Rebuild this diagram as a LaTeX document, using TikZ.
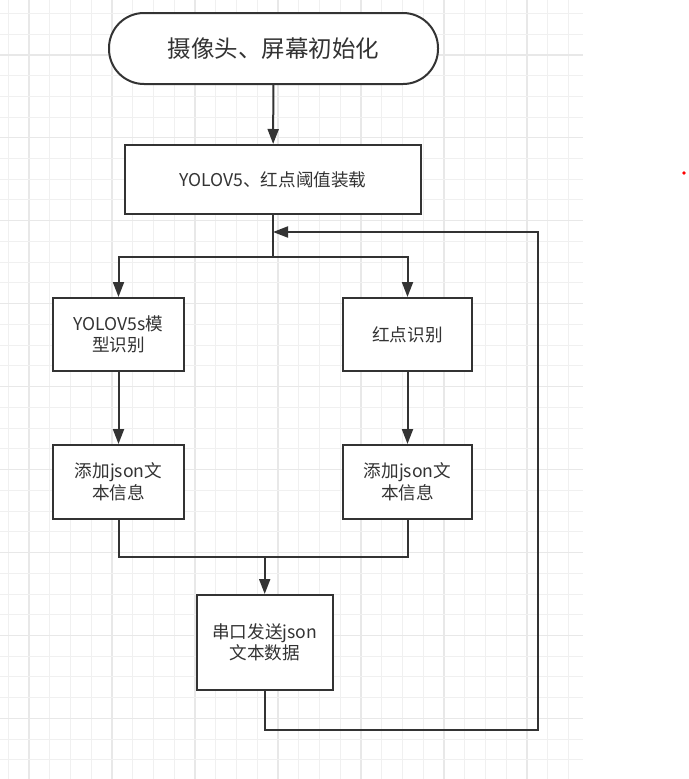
\documentclass[tikz,border=0pt]{standalone}
\usepackage{fontspec}
\setmainfont{Noto Sans CJK SC}
\usetikzlibrary{arrows.meta}
\definecolor{ink}{HTML}{333333}
\definecolor{gridlight}{HTML}{F0F0F0}
\definecolor{griddark}{HTML}{E8E8E8}
\tikzset{
  gthin/.style={draw=gridlight, line width=1pt},
  gthick/.style={draw=griddark, line width=1.5pt},
  box/.style={draw=ink, line width=2pt, fill=white, text=ink, align=center,
    inner sep=0pt, font=\fontsize{17.6}{21.5}\selectfont},
  startbox/.style={box, rounded corners=35pt, font=\fontsize{23.5}{28}\selectfont},
  conn/.style={draw=ink, line width=2pt},
  arr/.style={conn, -{Triangle[length=15pt,width=11pt]}},
}
\begin{document}
\begin{tikzpicture}[x=1pt,y=-1pt]
\useasboundingbox (0,0) rectangle (688,779);
% background grid
\foreach \k in {0,...,27}{
  \pgfmathtruncatemacro{\m}{mod(\k,4)}
  \ifnum\m=1
    \draw[gthick] ({8.3+\k*20.74},0) -- ({8.3+\k*20.74},779);
  \else
    \draw[gthin] ({8.3+\k*20.74},0) -- ({8.3+\k*20.74},779);
  \fi
}
\foreach \k in {0,...,36}{
  \pgfmathtruncatemacro{\m}{mod(\k,4)}
  \ifnum\m=2
    \draw[gthick] (0,{13.3+\k*20.74}) -- (583,{13.3+\k*20.74});
  \else
    \draw[gthin] (0,{13.3+\k*20.74}) -- (583,{13.3+\k*20.74});
  \fi
}
% nodes
\node[startbox, minimum width=329pt, minimum height=71pt] (init) at (273.5,48.5) {摄像头、屏幕初始化};
\node[box, minimum width=296pt, minimum height=69pt] (load) at (273,179.5) {YOLOV5、红点阈值装载};
\node[box, minimum width=131pt, minimum height=73pt] (yolo) at (118.5,334.5) {YOLOV5s模\\型识别};
\node[box, minimum width=129pt, minimum height=73pt] (red) at (407.5,334.5) {红点识别};
\node[box, minimum width=131pt, minimum height=74pt] (jsonA) at (118.5,482) {添加json文\\本信息};
\node[box, minimum width=129pt, minimum height=74pt] (jsonB) at (407.5,482) {添加json文\\本信息};
\node[box, minimum width=136pt, minimum height=95pt] (send) at (264.7,642.5) {串口发送json\\文本数据};
\node[circle, fill=red, inner sep=0pt, minimum size=3.6pt] (dot) at (684,173) {};
% coordinates
\coordinate (split) at (273,257);
\coordinate (merge) at (264.7,557);
\coordinate (lb) at (538,730);
\coordinate (lt) at (538,232);
\coordinate (entry) at (273,232);
% connectors
\draw[arr] (init) -- (load);
\draw[conn] (load.south) -- (split);
\draw[arr] (split) -| (yolo.north);
\draw[arr] (split) -| (red.north);
\draw[arr] (yolo) -- (jsonA);
\draw[arr] (red) -- (jsonB);
\draw[conn] (jsonA.south) |- (merge) -| (jsonB.south);
\draw[arr] (merge) -- (send.north);
\draw[arr] (send.south) |- (lb) -- (lt) -- (entry);
\end{tikzpicture}
\end{document}
